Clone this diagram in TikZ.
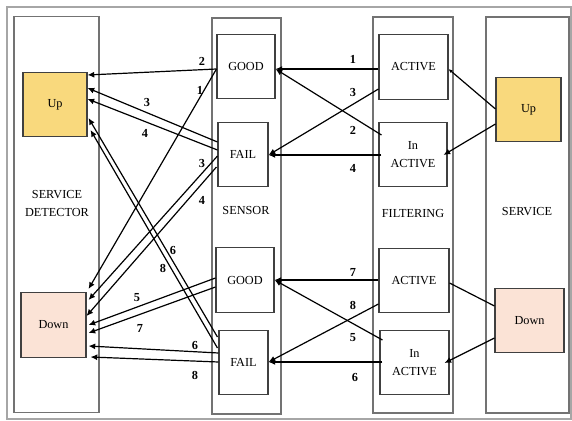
\documentclass[tikz,border=0pt]{standalone}
\usepackage{fontspec}
\setmainfont{Liberation Serif}
\usetikzlibrary{positioning,arrows.meta,calc}
\definecolor{upyellow}{RGB}{249,217,125}
\definecolor{downpeach}{RGB}{251,227,214}
\tikzset{
  col/.style={draw=black!55, line width=0.8pt, inner sep=0pt, minimum height=297pt},
  box/.style={draw=black!75, line width=0.8pt, inner sep=0pt, minimum height=48.5pt,
    align=center, font=\fontsize{9.2}{13}\selectfont},
  title/.style={align=center, font=\fontsize{9.2}{13}\selectfont},
  num/.style={font=\fontsize{9.2}{10}\selectfont\bfseries, inner sep=0pt},
  arr/.style={line width=0.9pt, -{Latex[length=5pt,width=4.5pt]}}
}
\begin{document}
\begin{tikzpicture}[x=0.75pt, y=-0.75pt]
  \useasboundingbox (0,0) rectangle (572,421);
  \draw[black!35, line width=0.8pt] (7,7) rectangle (571,419);

  % Columns
  \node[col, minimum width=63.75pt] (detcol) at (56.5,214.5) {};
  \node[col, minimum width=51.75pt] (sencol) at (246.5,216) {};
  \node[col, minimum width=60pt] (filcol) at (413,215) {};
  \node[col, minimum width=62.25pt] (srvcol) at (527.5,215) {};

  % Column titles
  \node[title] (dettitle) at (57,203.5) {SERVICE\\DETECTOR};
  \node[title] (sentitle) at (246,210) {SENSOR};
  \node[title] (filtitle) at (413,213) {FILTERING};
  \node[title] (srvtitle) at (527,212) {SERVICE};

  % Service detector
  \node[box, fill=upyellow, minimum width=48pt] (detUp) at (55,104.5) {Up};
  \node[box, fill=downpeach, minimum width=48.75pt] (detDown) at (53.5,325) {Down};

  % Sensor
  \node[box, minimum width=43.5pt] (senGood1) at (246,66.5) {GOOD};
  \node[box, minimum width=37.5pt] (senFail1) at (243,154.5) {FAIL};
  \node[box, minimum width=43.5pt] (senGood2) at (245,280) {GOOD};
  \node[box, minimum width=36.75pt] (senFail2) at (243.5,362.5) {FAIL};

  % Filtering
  \node[box, minimum width=51.75pt] (filAct1) at (413.5,67) {ACTIVE};
  \node[box, minimum width=51pt] (filIn1) at (413,154.5) {In\\ACTIVE};
  \node[box, minimum width=52.5pt] (filAct2) at (414,280.5) {ACTIVE};
  \node[box, minimum width=51.75pt] (filIn2) at (414.5,362.5) {In\\ACTIVE};

  % Service
  \node[box, fill=upyellow, minimum width=48.75pt] (srvUp) at (528.5,109.5) {Up};
  \node[box, fill=downpeach, minimum width=51.75pt] (srvDown) at (529.5,320.5) {Down};

  % Sensor -> service detector
  \foreach \a/\da/\b/\db in {
      senGood1.west/{0,2.5}/detUp.east/{0,-29.5},
      senGood1.west/{0,2.5}/detDown.east/{2,-36},
      senFail1.west/{0,-12.5}/detUp.east/{0,-16.5},
      senFail1.west/{0,-4.5}/detUp.east/{0,-5.5},
      senFail1.west/{0,1.5}/detDown.east/{2,-25},
      senFail1.west/{-1,12.5}/detDown.east/{0,-9},
      senGood2.west/{0,-2}/detDown.east/{2,0},
      senGood2.west/{0,7}/detDown.east/{2,8},
      senFail2.west/{0,-9.5}/detDown.east/{2,21},
      senFail2.west/{0,-0.5}/detDown.east/{4,32},
      senFail2.west/{-1,-25.5}/detUp.east/{1,13.5},
      senFail2.west/{-1,-14.5}/detUp.east/{3,25.5}}
    \draw[arr] ($(\a)+(\da)$) -- ($(\b)+(\db)$);

  % Filtering -> sensor
  \foreach \a/\da/\b/\db in {
      filAct1.west/{0,2}/senGood1.east/{0,2.5},
      filAct1.west/{0,22}/senFail1.east/{0,0.5},
      filIn1.west/{3,-19.5}/senGood1.east/{0,2.5},
      filIn1.west/{3,0.5}/senFail1.east/{0,0.5},
      filAct2.west/{0,-0.5}/senGood2.east/{0,0},
      filAct2.west/{0,23.5}/senFail2.east/{0,-0.5},
      filIn2.west/{3,-22.5}/senGood2.east/{0,0},
      filIn2.west/{3,-0.5}/senFail2.east/{0,-0.5}}
    \draw[arr] ($(\a)+(\da)$) -- ($(\b)+(\db)$);

  % Service -> filtering
  \draw[line width=0.9pt, -{Latex[length=3pt,width=2.5pt]}] ($(srvUp.west)+(0,-0.5)$) -- ($(filAct1.east)+(0,2)$);
  \draw[arr] ($(srvUp.west)+(0,14.5)$) -- ($(filIn1.east)+(-4,0.5)$);
  \draw[line width=0.9pt] ($(srvDown.west)+(0,-14.5)$) -- ($(filAct2.east)+(0,2.5)$);
  \draw[arr] ($(srvDown.west)+(0,17.5)$) -- ($(filIn2.east)+(-5,0.5)$);

  % Labels
  \node[num] (n2a) at (202,61) {2};
  \node[num] (n1a) at (200,90) {1};
  \node[num] (n3a) at (147,102) {3};
  \node[num] (n4a) at (145,133) {4};
  \node[num] (n3b) at (202,163) {3};
  \node[num] (n4b) at (202,200) {4};
  \node[num] (n6a) at (173,250) {6};
  \node[num] (n8a) at (163,268) {8};
  \node[num] (n5a) at (137,298) {5};
  \node[num] (n7a) at (140,328) {7};
  \node[num] (n6b) at (195,345) {6};
  \node[num] (n8b) at (195,375) {8};
  \node[num] (m1) at (353,59) {1};
  \node[num] (m3) at (353,92) {3};
  \node[num] (m2) at (353,130) {2};
  \node[num] (m4) at (353,168) {4};
  \node[num] (m7) at (353,272) {7};
  \node[num] (m8) at (353,305) {8};
  \node[num] (m5) at (353,338) {5};
  \node[num] (m6) at (355,377) {6};
\end{tikzpicture}
\end{document}
